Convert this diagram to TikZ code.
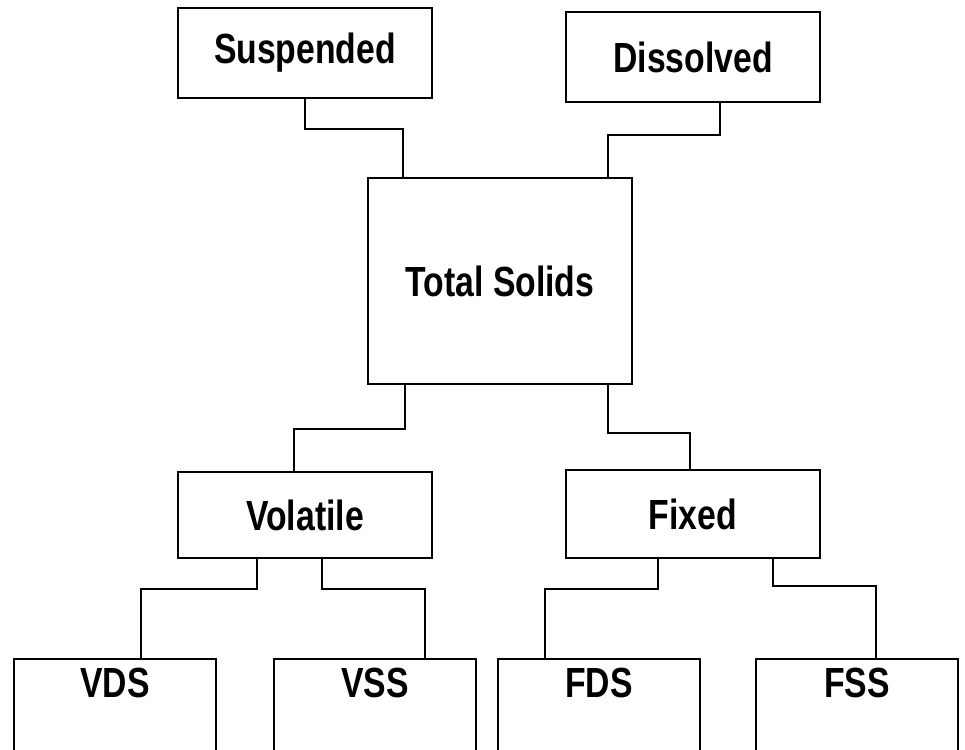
\documentclass[tikz,border=0pt]{standalone}
\usepackage{fontspec}
\setmainfont[FakeStretch=0.8]{Liberation Sans}
\usetikzlibrary{calc}
\tikzset{
    solidsbox/.style = {draw, line width=1.1pt, inner sep=0pt,
                        minimum width=5.08cm, minimum height=1.8cm,
                        font=\fontsize{24}{28}\selectfont\bfseries},
    lowbox/.style    = {solidsbox, minimum width=4.04cm, minimum height=0pt,
                        text height=0.78cm, text depth=1.26cm},
    link/.style      = {draw, line width=1.1pt}
}

\begin{document}
\begin{tikzpicture}[x=0.02cm, y=-0.02cm]
\useasboundingbox[fill=white] (0,0) rectangle (965,750);

% top row
\node (susp) [solidsbox] at (305,53) {Suspended};
\node (diss) [solidsbox] at (693,57) {Dissolved};
% centre
\node (total) [solidsbox, minimum width=5.28cm, minimum height=4.12cm] at (500,281) {Total Solids};
% middle row
\node (vol) [solidsbox, minimum height=1.72cm] at (305,515) {Volatile};
\node (fix) [solidsbox, minimum height=1.76cm] at (693,514) {Fixed};
% bottom row
\node (vds) [lowbox, anchor=north] at (115,658) {VDS};
\node (vss) [lowbox, anchor=north] at (375,658) {VSS};
\node (fds) [lowbox, anchor=north] at (599,658) {FDS};
\node (fss) [lowbox, anchor=north] at (857,658) {FSS};

\draw [link] (susp.south) -- ++(0,30) -| ($(total.north west)+(36,0)$);
\draw [link] ($(diss.south)+(27,0)$) -- ++(0,32) -| ($(total.north east)+(-25,0)$);
\draw [link] ($(total.south west)+(38,0)$) -- ++(0,44) -| ($(vol.north)+(-11,0)$);
\draw [link] ($(total.south east)+(-25,0)$) -- ++(0,48) -| ($(fix.north)+(-3,0)$);
\draw [link] ($(vol.south)+(-48,0)$) -- ++(0,30) -| ($(vds.north)+(26,0)$);
\draw [link] ($(vol.south)+(17,0)$) -- ++(0,30) -| ($(vss.north)+(50,0)$);
\draw [link] ($(fix.south)+(-35,0)$) -- ++(0,30) -| ($(fds.north)+(-54,0)$);
\draw [link] ($(fix.south)+(80,0)$) -- ++(0,27) -| ($(fss.north)+(19,0)$);
\end{tikzpicture}
\end{document}
